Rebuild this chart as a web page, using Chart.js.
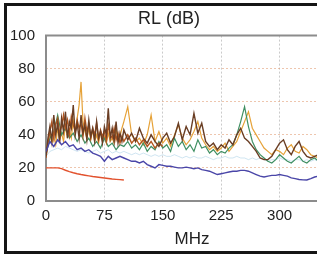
<!DOCTYPE html>
<html lang="en">
<head>
  <meta charset="UTF-8">
  <title>RL (dB)</title>
  <script src="https://cdn.jsdelivr.net/npm/chart.js"></script>
  <style>
    body {
      margin: 0;
      background: #fff;
      overflow: hidden;
      width: 317px;
      height: 255px;
      position: relative;
    }
    #cadre {
      position: absolute;
      left: 4px;
      top: 3px;
      width: 400px;
      height: 251px;
      box-sizing: border-box;
      border: 3px solid #151515;
    }
    canvas {
      position: absolute;
      left: 0;
      top: 0;
    }
  </style>
</head>
<body>
  <div id="cadre"></div>
  <canvas id="chartRL" width="344" height="255"></canvas>
  <script>
    // frequences (MHz)
    const freqs = [0,5,10,15,20,25,30,35,40,45,50,55,60,65,70,75,80,85,90,95,
      100,105,110,115,120,125,130,135,140,145,150,155,160,165,170,175,180,185,190,195,
      200,205,210,215,220,225,230,235,240,245,250,255,260,265,270,275,280,285,290,295,
      300,305,310,315,320,325,330,335,340,345,350];
    const freqsBas = [0,2.5,5,7.5,10,12.5,15,17.5,20,22.5,25,27.5,30,32.5,35,37.5,40,42.5,45,47.5,
      50,52.5,55,57.5,60,62.5,65,67.5,70,72.5,75,77.5,80,82.5,85,87.5,90,92.5,95,97.5,100];
    const freqsHaut = [105,110,115,120,125,130,135,140,145,150,155,160,165,170,175,180,185,190,195,200,
      205,210,215,220,225,230,235,240,245,250,255,260,265,270,275,280,285,290,295,300,
      305,310,315,320,325,330,335,340,345,350];

    const xTicks = [0, 75, 150, 225, 300];
    const yTicks = [0, 20, 40, 60, 80, 100];

    const brunBas = [27,38,45,36,52,40,47,35,50,42,54,38,48,44,58,40,47,38,52,41,
      46,37,49,39,44,36,48,38,42,35,45,40,56,38,44,36,48,35,41,36,43];
    const brunHaut = [37,41,36,44,38,35,40,36,33,38,41,35,39,47,37,45,40,53,41,47,
      36,33,35,31,34,32,37,34,40,44,38,36,33,30,26,25,25,27,31,35,
      37,31,28,33,36,30,27,26,27,28];

    const rouilleBas = [26,35,42,48,38,46,50,41,45,52,44,49,40,51,46,42,49,44,47,39,
      50,42,46,38,44,40,47,37,43,39,42,36,46,40,38,44,37,41,35,39,36];
    const rouilleHaut = [40,35,38,34,37,33,36,32,35,33];

    const ocreBas = [30,36,41,35,39,34,44,37,41,36,46,39,43,38,49,41,50,58,72,48,
      42,38,44,37,43,36,40,35,42,37,39,35,41,36,38,35,43,37,39,44,48];
    const ocreHaut = [57,40,36,38,34,40,52,36,42,35,38,33,40,46,38,34,37,42,48,38,
      34,31,33,30,32,35,30,33,36,42,48,54,44,40,36,32,30,28,31,30,
      28,32,34,30,29,33,31,28,27,26];

    const vert = [28,38,42,52,40,44,38,41,36,40,35,38,33,36,32,38,33,35,31,34,
      33,36,32,34,31,35,30,33,31,36,32,34,30,38,33,36,31,34,30,37,
      32,33,29,31,28,30,29,32,34,40,48,57,45,36,31,28,26,24,23,25,
      28,26,24,23,25,27,24,23,25,26,24];

    const bleu = [30,36,33,37,34,36,33,34,31,32,30,31,29,28,27,24,27,25,26,27,
      26,25,24,24,23,24,22,21,20,22,21.5,21,21,20.5,20,20,20.5,20,19.5,20,
      19,18.5,18,17,16,16.5,17,17.5,18,18,18.5,18.5,18,17,16,15,14.5,15,15.5,15.5,
      16,15.5,15,14,13.5,13,12.8,12.7,13.5,14.5,15];

    const rouge = [20,20,20,20,19.6,18.6,17.8,17.1,16.5,16,15.6,15.2,14.8,14.5,14.2,13.9,13.6,13.3,13.1,12.9,12.7];

    const bleuClair = [27,30,31,32,31,33,32,31,30,31,30,29,30,31,29,30,31,29,30,29,
      30,29,28,29,28,29,28,27,28,27,28,27,27,28,27,26,27,26,27,26,
      26,27,26,25,26,26,27,26,26,27,26,26,25,26,25,26,25,24,25,25,
      26,25,25,24,25,25,24,25,24,25,24];

    const pts = (xs, arr) => arr.map((v, i) => ({ x: xs[i], y: v }));

    const serie = (data, couleur, largeur) => ({
      data: data,
      borderColor: couleur,
      borderWidth: largeur || 1.2,
      pointRadius: 0,
      fill: false,
      tension: 0
    });

    // cadre gris du graphique
    const cadrePlugin = {
      id: 'cadre',
      beforeDatasetsDraw(chart) {
        const { ctx, chartArea: a } = chart;
        ctx.save();
        ctx.setLineDash([]);
        ctx.strokeStyle = '#8c8c8c';
        ctx.lineWidth = 2;
        ctx.beginPath();
        ctx.moveTo(a.right + 20, a.top);
        ctx.lineTo(a.left, a.top);
        ctx.lineTo(a.left, a.bottom);
        ctx.lineTo(a.right + 20, a.bottom);
        ctx.stroke();
        ctx.restore();
      }
    };

    const police = 'Arial, "Liberation Sans"';

    const ctx = document.getElementById('chartRL').getContext('2d');
    new Chart(ctx, {
      type: 'line',
      data: {
        datasets: [
          serie(pts(freqs, bleu), '#4a46a8', 1.4),
          serie(pts(freqs.slice(0, rouge.length), rouge), '#e2522e', 1.4),
          serie(pts(freqsBas, brunBas).concat(pts(freqsHaut, brunHaut)), '#6a3e24', 1.4),
          serie(pts(freqsBas, rouilleBas).concat(pts(freqsHaut, rouilleHaut)), '#b3561f', 1.4),
          serie(pts(freqs, vert), '#3f8f62'),
          serie(pts(freqsBas, ocreBas).concat(pts(freqsHaut, ocreHaut)), '#e6a238'),
          serie(pts(freqs, bleuClair), 'rgba(175,212,232,0.6)', 1)
        ]
      },
      options: {
        responsive: false,
        animation: false,
        layout: { padding: { left: 0, right: 6, top: 0, bottom: 4 } },
        plugins: {
          legend: { display: false },
          tooltip: { enabled: false },
          title: {
            display: true,
            text: 'RL (dB)',
            color: '#222',
            font: { family: police, size: 18, weight: 'normal' },
            padding: { top: 8, bottom: 6 }
          }
        },
        scales: {
          x: {
            type: 'linear',
            min: 0,
            max: 375,
            afterBuildTicks: s => { s.ticks = xTicks.map(v => ({ value: v })); },
            afterFit: s => { s.height = 50; },
            ticks: {
              color: '#222',
              padding: 6,
              maxRotation: 0,
              font: { family: police, size: 15 }
            },
            grid: {
              drawTicks: false,
              color: c => c.tick && c.tick.value === 0 ? 'transparent' : 'rgba(180,180,180,0.7)',
              lineWidth: 1
            },
            border: { display: false, dash: [2, 2] },
            title: {
              display: true,
              text: 'MHz',
              color: '#222',
              font: { family: police, size: 17 },
              padding: { top: 0, bottom: 1 }
            }
          },
          y: {
            min: 0,
            max: 100,
            afterBuildTicks: s => { s.ticks = yTicks.map(v => ({ value: v })); },
            afterFit: s => { s.width = 46; },
            ticks: {
              color: '#222',
              padding: 11,
              font: { family: police, size: 15 }
            },
            grid: {
              drawTicks: false,
              color: c => (c.tick && (c.tick.value === 0 || c.tick.value === 100)) ? 'transparent' : 'rgba(226,160,120,0.6)',
              lineWidth: 1
            },
            border: { display: false, dash: [2, 2] }
          }
        }
      },
      plugins: [cadrePlugin]
    });
  </script>
</body>
</html>
